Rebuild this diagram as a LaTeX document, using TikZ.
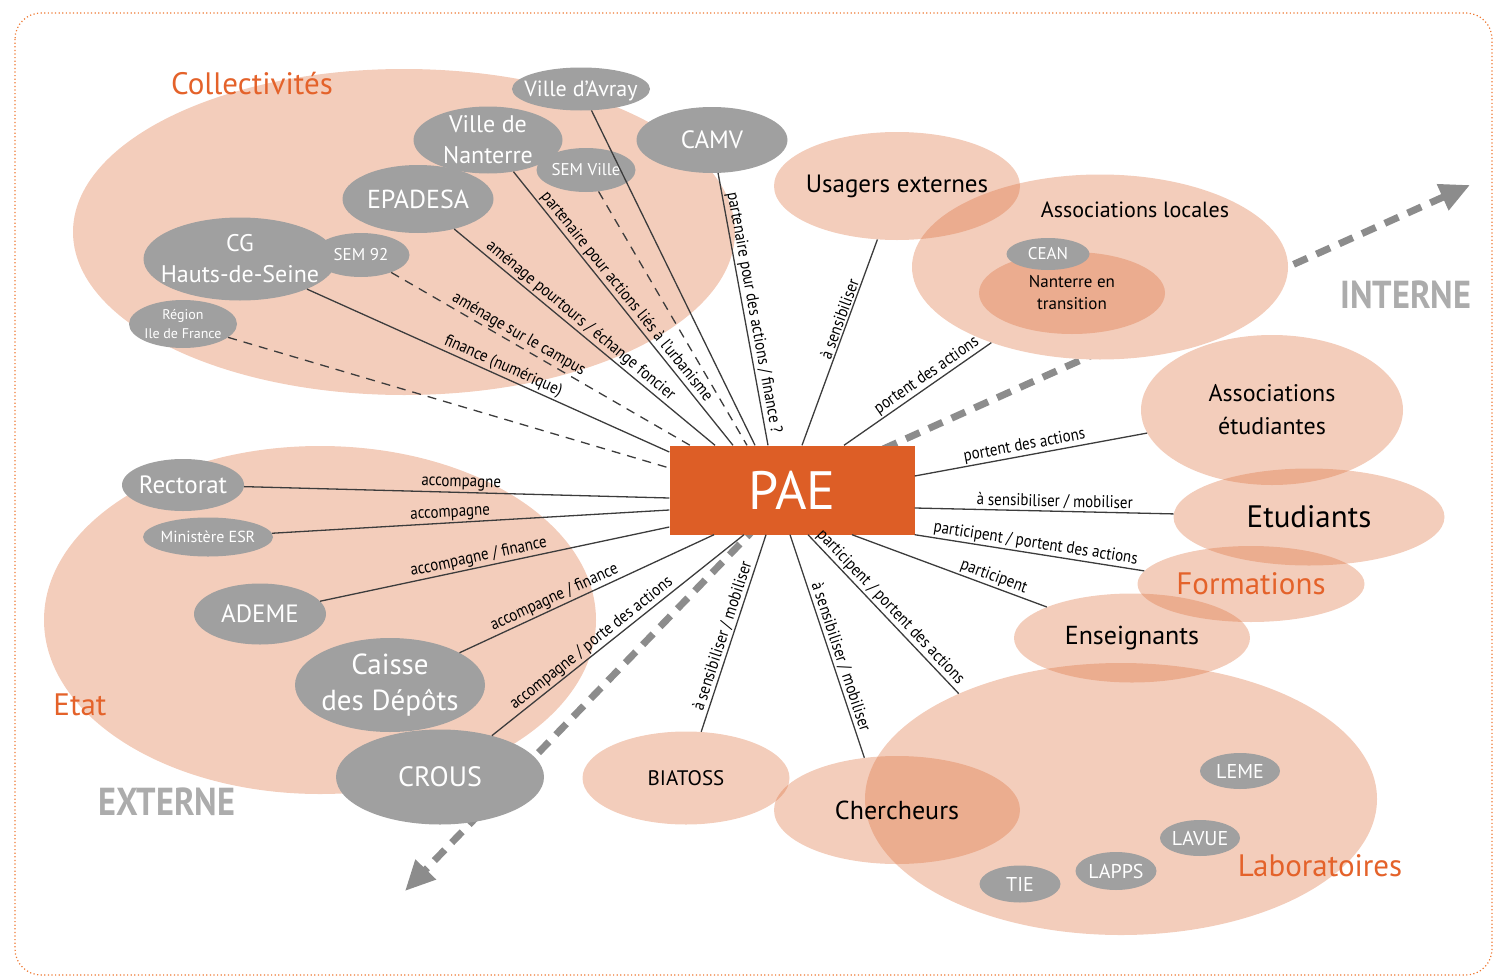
\documentclass[tikz,border=0pt]{standalone}
\usepackage{fontspec}
\setmainfont{PT Sans}
\newfontfamily\condfont[FakeStretch=0.88]{PT Sans}
\usepackage{tikz}
\usetikzlibrary{shapes.geometric, arrows.meta, positioning}

\definecolor{peach}{RGB}{221,112,61}
\definecolor{peachlt}{RGB}{243,205,187}
\definecolor{paeorange}{RGB}{221,94,38}
\definecolor{zoneorange}{RGB}{228,98,42}
\definecolor{nodegrey}{RGB}{160,160,160}
\definecolor{linegrey}{RGB}{60,60,60}
\definecolor{flowgrey}{RGB}{140,140,140}
\definecolor{sidegrey}{RGB}{172,172,172}
\definecolor{frameorange}{RGB}{238,122,52}

\newcommand{\fsz}[2]{\fontsize{#1}{#2}\selectfont}

\tikzstyle{zone} = [ellipse, fill=peach, fill opacity=0.35, inner sep=0pt]
\tikzstyle{gnode} = [ellipse, fill=nodegrey, inner sep=0pt]
\tikzstyle{wtext} = [text=white, align=center, inner sep=0pt, fill opacity=1, text opacity=1]
\tikzstyle{btext} = [text=black, align=center, inner sep=0pt, fill opacity=1, text opacity=1]
\tikzstyle{otext} = [text=zoneorange, inner sep=0pt, fill opacity=1, text opacity=1]
\tikzstyle{side} = [text=sidegrey, font=\condfont\bfseries\fsz{39}{42}, inner sep=0pt]
\tikzstyle{line} = [draw=linegrey, line width=1.3pt]
\tikzstyle{dline} = [draw=linegrey, line width=1.3pt, dash pattern=on 9pt off 7pt]
\tikzstyle{rel} = [sloped, above, inner sep=1.5pt, text=black, font=\condfont\fsz{17}{18}]
\tikzstyle{flow} = [draw=flowgrey, line width=7pt, dash pattern=on 15pt off 10pt, -{Triangle[length=30pt, width=27pt]}]

\begin{document}
\begin{tikzpicture}[x=1pt, y=-1pt]
\useasboundingbox (0,0) rectangle (1494,977);
\draw[frameorange, line width=1.2pt, dash pattern=on 1.2pt off 2.4pt, rounded corners=26pt] (15,13) rectangle (1492,975);

% groups
\node[zone, minimum width=662pt, minimum height=326pt] (coll) at (404,232) {};
\node[zone, minimum width=552pt, minimum height=348pt] (etat) at (320,620) {};
\node[zone, minimum width=512pt, minimum height=272pt] (labo) at (1121,799) {};

% interne / externe
\coordinate (hub) at (792,490);
\coordinate (ext) at (405,891);
\coordinate (int) at (1470,185);
\draw[flow] (hub) -- (ext);
\draw[flow] (hub) -- (int);

% internal side
\node[zone, fill=peachlt, fill opacity=1, minimum width=376pt, minimum height=185pt] (assoc) at (1100,267) {};
\node[btext, font=\fsz{22}{26}] (assoc-t) at (1135,210) {Associations locales};
\node[zone, minimum width=246pt, minimum height=108pt, label={[btext, font=\fsz{25}{30}]center:Usagers externes}] (usag) at (897,186) {};
\node[zone, minimum width=186pt, minimum height=82pt, label={[btext, font=\fsz{17}{22}]center:{Nanterre en\\transition}}] (nant) at (1072,293) {};
\node[gnode, minimum width=83pt, minimum height=32pt, label={[wtext, font=\fsz{17}{20}]center:CEAN}] (cean) at (1048,254) {};
\node[zone, minimum width=262pt, minimum height=150pt, label={[btext, font=\fsz{24}{33}]center:{Associations\\étudiantes}}] (asset) at (1272,410) {};
\node[zone, minimum width=271pt, minimum height=97pt, label={[btext, font=\fsz{31}{36}]center:Etudiants}] (etud) at (1309,517) {};
\node[zone, minimum width=227pt, minimum height=76pt, label={[otext, font=\fsz{31}{36}]center:Formations}] (form) at (1251,584) {};
\node[zone, minimum width=236pt, minimum height=89pt, label={[btext, font=\fsz{26}{30}]center:Enseignants}] (ens) at (1132,638) {};
\node[zone, minimum width=246pt, minimum height=108pt, label={[btext, font=\fsz{26}{30}]center:Chercheurs}] (cher) at (897,810) {};
\node[zone, minimum width=207pt, minimum height=93pt, label={[btext, font=\fsz{21}{26}]center:BIATOSS}] (biat) at (686,778) {};
\node[gnode, minimum width=80pt, minimum height=36pt, label={[wtext, font=\fsz{20}{24}]center:LEME}] (leme) at (1240,771) {};
\node[gnode, minimum width=80pt, minimum height=36pt, label={[wtext, font=\fsz{20}{24}]center:LAVUE}] (lavue) at (1200,838) {};
\node[gnode, minimum width=81pt, minimum height=38pt, label={[wtext, font=\fsz{20}{24}]center:LAPPS}] (lapps) at (1116,871) {};
\node[gnode, minimum width=81pt, minimum height=37pt, label={[wtext, font=\fsz{20}{24}]center:TIE}] (tie) at (1020,884) {};

% external side
\node[gnode, minimum width=138pt, minimum height=43pt, label={[wtext, font=\fsz{22}{26}, yshift=-2pt]center:Ville d’Avray}] (avray) at (581,89) {};
\node[gnode, minimum width=149pt, minimum height=67pt, label={[wtext, font=\fsz{24}{31}]center:{Ville de\\Nanterre}}] (vdn) at (488,140) {};
\node[gnode, minimum width=151pt, minimum height=68pt, label={[wtext, font=\fsz{26}{30}]center:EPADESA}] (epad) at (418,199) {};
\node[gnode, minimum width=99pt, minimum height=44pt, label={[wtext, font=\fsz{17}{20}]center:SEM Ville}] (semv) at (586,170) {};
\node[gnode, minimum width=151pt, minimum height=66pt, label={[wtext, font=\fsz{25}{30}]center:CAMV}] (camv) at (712,140) {};
\node[gnode, minimum width=193pt, minimum height=83pt, label={[wtext, font=\fsz{24}{31}]center:{CG\\Hauts-de-Seine}}] (cg) at (240,259) {};
\node[gnode, minimum width=97pt, minimum height=44pt, label={[wtext, font=\fsz{17}{20}]center:SEM 92}] (sem92) at (361,255) {};
\node[gnode, minimum width=108pt, minimum height=48pt, label={[wtext, font=\fsz{14}{19}]center:{Région\\Ile de France}}] (idf) at (183,324) {};
\node[gnode, minimum width=122pt, minimum height=52pt, label={[wtext, font=\fsz{25}{30}]center:Rectorat}] (rect) at (183,485) {};
\node[gnode, minimum width=130pt, minimum height=39pt, label={[wtext, font=\fsz{16}{20}]center:Ministère ESR}] (mesr) at (208,537) {};
\node[gnode, minimum width=132pt, minimum height=61pt, label={[wtext, font=\fsz{25}{30}]center:ADEME}] (ademe) at (260,614) {};
\node[gnode, minimum width=190pt, minimum height=94pt, label={[wtext, font=\fsz{29}{36}]center:{Caisse\\des Dépôts}}] (cdc) at (390,685) {};
\node[gnode, minimum width=208pt, minimum height=95pt, label={[wtext, font=\fsz{28}{32}]center:CROUS}] (crous) at (440,777) {};

% PAE
\node[fill=paeorange, minimum width=245pt, minimum height=89pt, inner sep=0pt, text=white, font=\fsz{54}{60}] (pae) at (hub) {PAE};

% relations
\path[dline] (idf) -- ([yshift=22pt]pae.west);
\path[line] (cg) -- node[rel, pos=0.53] {finance (numérique)} ([yshift=38pt]pae.west);
\path[dline] (sem92) -- node[rel, pos=0.41] {aménage sur le campus} ([xshift=-102pt]pae.north);
\path[line] (epad) -- node[rel, pos=0.46] {aménage pourtours / échange foncier} ([xshift=-77pt]pae.north);
\path[line] (vdn) -- node[rel, pos=0.48] {partenaire pour actions liés à l’urbanisme} ([xshift=-59pt]pae.north);
\path[dline] (semv) -- ([xshift=-45pt]pae.north);
\path[line] (avray) -- ([xshift=-37pt]pae.north);
\path[line] (camv) -- node[rel, pos=0.52] {partenaire pour des actions / finance ?} ([xshift=-24pt]pae.north);
\path[line] (usag) -- node[rel, pos=0.4] {à sensibiliser} ([xshift=10pt]pae.north);
\path[line] (assoc) -- node[rel, pos=0.4] {portent des actions} ([xshift=52pt]pae.north);
\path[line] (asset) -- node[rel, pos=0.52] {portent des actions} ([yshift=14pt]pae.east);
\path[line] (etud) -- node[rel, pos=0.46] {à sensibiliser / mobiliser} ([yshift=-18pt]pae.east);
\path[line] (form.173) -- node[rel, pos=0.48] {participent / portent des actions} (pae.south east);
\path[line] (ens.160) -- node[rel, pos=0.29] {participent} ([xshift=60pt]pae.south);
\path[line] (labo.147) -- node[rel, pos=0.5] {participent / portent des actions} ([xshift=16pt]pae.south);
\path[line] (cher.122) -- node[rel, pos=0.44] {à sensibiliser / mobiliser} ([xshift=-2pt]pae.south);
\path[line] (biat) -- node[rel, pos=0.47] {à sensibiliser / mobiliser} ([xshift=-26pt]pae.south);
\path[line] (crous) -- node[rel, pos=0.42] {accompagne / porte des actions} ([xshift=-48pt]pae.south);
\path[line] (cdc) -- node[rel, pos=0.39] {accompagne / finance} ([xshift=-78pt]pae.south);
\path[line] (ademe) -- node[rel, pos=0.46] {accompagne / finance} ([yshift=-37pt]pae.west);
\path[line] (mesr) -- node[rel, pos=0.45] {accompagne} ([yshift=-20pt]pae.west);
\path[line] (rect) -- node[rel, pos=0.51] {accompagne} ([yshift=-8pt]pae.west);

% titles
\node[otext, font=\fsz{31}{36}] (coll-t) at (252,84) {Collectivités};
\node[otext, font=\fsz{31}{36}] (etat-t) at (80,705) {Etat};
\node[otext, font=\fsz{31}{36}] (labo-t) at (1320,866) {Laboratoires};
\node[side] (int-t) at (1406,295) {INTERNE};
\node[side] (ext-t) at (167,802) {EXTERNE};
\end{tikzpicture}
\end{document}
